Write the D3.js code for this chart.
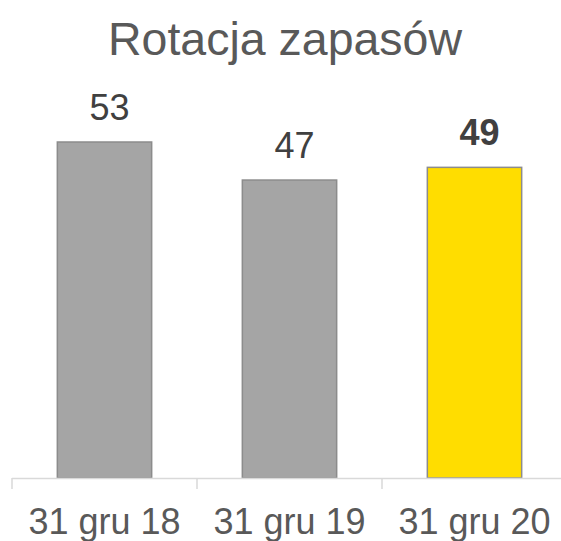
<!DOCTYPE html>
<html>
<head>
<meta charset="utf-8">
<script src="https://cdn.jsdelivr.net/npm/d3@7"></script>
<style>
  body { margin: 0; background: #fff; }
  svg { display: block; font-family: Arial, "Liberation Sans", sans-serif; }
</style>
</head>
<body>
<div id="chart"></div>
<script>
// Dane wykresu
const title = "Rotacja zapasów";
const categories = ["31 gru 18", "31 gru 19", "31 gru 20"];
const values = [53, 47, 49];
const highlight = [false, false, true];

const width = 561;
const height = 541;

const svg = d3.select("#chart")
  .append("svg")
  .attr("width", width)
  .attr("height", height);

// Skale
const x = d3.scaleBand()
  .domain(categories)
  .range([12, 567])
  .paddingInner(0.49)
  .paddingOuter(0.245);

const y = d3.scaleLinear()
  .domain([0, 53])
  .range([478, 142]);

// Tytuł
svg.append("text")
  .attr("x", 285)
  .attr("y", 55)
  .attr("text-anchor", "middle")
  .attr("font-size", 46.5)
  .attr("fill", "#595959")
  .text(title);

// Słupki
svg.selectAll("rect.bar")
  .data(values)
  .enter()
  .append("rect")
  .attr("class", "bar")
  .attr("x", (d, i) => x(categories[i]))
  .attr("y", d => y(d))
  .attr("width", x.bandwidth())
  .attr("height", d => y(0) - y(d))
  .attr("fill", (d, i) => highlight[i] ? "#ffdd00" : "#a5a5a5")
  .attr("stroke", "#8c8c8c")
  .attr("stroke-width", 1.5);

// Etykiety wartości
svg.selectAll("text.value")
  .data(values)
  .enter()
  .append("text")
  .attr("class", "value")
  .attr("x", (d, i) => x(categories[i]) + x.bandwidth() / 2 + 5)
  .attr("y", d => y(d) - 22)
  .attr("text-anchor", "middle")
  .attr("font-size", 36)
  .attr("font-weight", (d, i) => highlight[i] ? "bold" : "normal")
  .attr("fill", "#404040")
  .text(d => d);

// Oś X
const gap = (x.step() - x.bandwidth()) / 2;
svg.append("line")
  .attr("x1", 12)
  .attr("x2", width)
  .attr("y1", y(0) + 0.5)
  .attr("y2", y(0) + 0.5)
  .attr("stroke", "#d9d9d9")
  .attr("stroke-width", 1.5);

svg.selectAll("line.tick")
  .data(categories)
  .enter()
  .append("line")
  .attr("class", "tick")
  .attr("x1", d => x(d) - gap)
  .attr("x2", d => x(d) - gap)
  .attr("y1", y(0))
  .attr("y2", y(0) + 11)
  .attr("stroke", "#d9d9d9")
  .attr("stroke-width", 1.5);

svg.selectAll("text.cat")
  .data(categories)
  .enter()
  .append("text")
  .attr("class", "cat")
  .attr("x", d => x(d) + x.bandwidth() / 2)
  .attr("y", 534)
  .attr("text-anchor", "middle")
  .attr("font-size", 36)
  .attr("fill", "#595959")
  .text(d => d);
</script>
</body>
</html>
